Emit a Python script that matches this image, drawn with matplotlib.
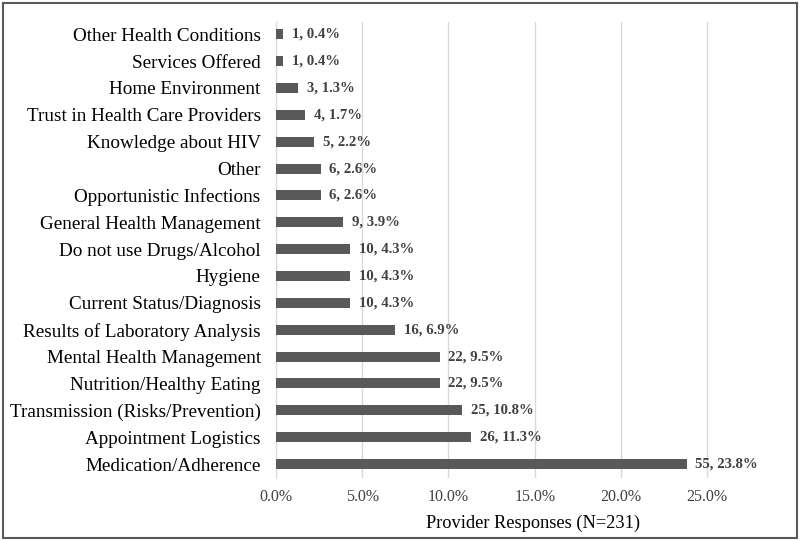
import matplotlib.pyplot as plt
from matplotlib.patches import Rectangle
from matplotlib.ticker import FuncFormatter

# categories listed bottom to top
categories = ['Medication/Adherence', 'Appointment Logistics',
              'Transmission (Risks/Prevention)', 'Nutrition/Healthy Eating',
              'Mental Health Management', 'Results of Laboratory Analysis',
              'Current Status/Diagnosis', 'Hygiene', 'Do not use Drugs/Alcohol',
              'General Health Management', 'Opportunistic Infections', 'Other',
              'Knowledge about HIV', 'Trust in Health Care Providers',
              'Home Environment', 'Services Offered', 'Other Health Conditions']
counts = [55, 26, 25, 22, 22, 16, 10, 10, 10, 9, 6, 6, 5, 4, 3, 1, 1]
percents = [23.8, 11.3, 10.8, 9.5, 9.5, 6.9, 4.3, 4.3, 4.3, 3.9, 2.6, 2.6,
            2.2, 1.7, 1.3, 0.4, 0.4]
x_ticks = [0, 5, 10, 15, 20, 25]

plt.rcParams['font.family'] = ['Liberation Serif', 'DejaVu Serif']

fig = plt.figure(figsize=(8, 5.41), dpi=100)
ax = fig.add_axes([0.345, 0.1165, 0.6425, 0.8425])

pos = list(range(len(categories)))
ax.barh(pos, percents, height=0.37, color='#595959', zorder=3)

# data labels "count, pct%"
for y, c, p in zip(pos, counts, percents):
    ax.text(p + 0.5, y, f'{c}, {p:.1f}%', va='center', ha='left',
            fontsize=10.6, fontweight='bold', color='#404040', zorder=4)

ax.set_yticks(pos)
ax.set_yticklabels(categories, fontsize=13.8, color='black')
ax.set_xticks(x_ticks)
ax.xaxis.set_major_formatter(FuncFormatter(lambda v, _: f'{v:.1f}%'))
ax.tick_params(axis='x', labelsize=11.5, colors='#404040', length=0, pad=8)
ax.tick_params(axis='y', length=0, pad=11)
ax.set_xlim(0, 29.8)
ax.set_ylim(-0.52, 16.45)

ax.grid(axis='x', color='#d9d9d9', linewidth=1, zorder=0)
for s in ['top', 'right', 'bottom']:
    ax.spines[s].set_visible(False)
ax.spines['left'].set_color('#d9d9d9')

ax.set_xlabel('Provider Responses (N=231)', fontsize=13.2, labelpad=7)

# outer frame
fig.patches.append(Rectangle((0.004, 0.005), 0.992, 0.99, transform=fig.transFigure,
                             fill=False, edgecolor='#595959', linewidth=1.5))

fig.savefig('out.png', dpi=100)
